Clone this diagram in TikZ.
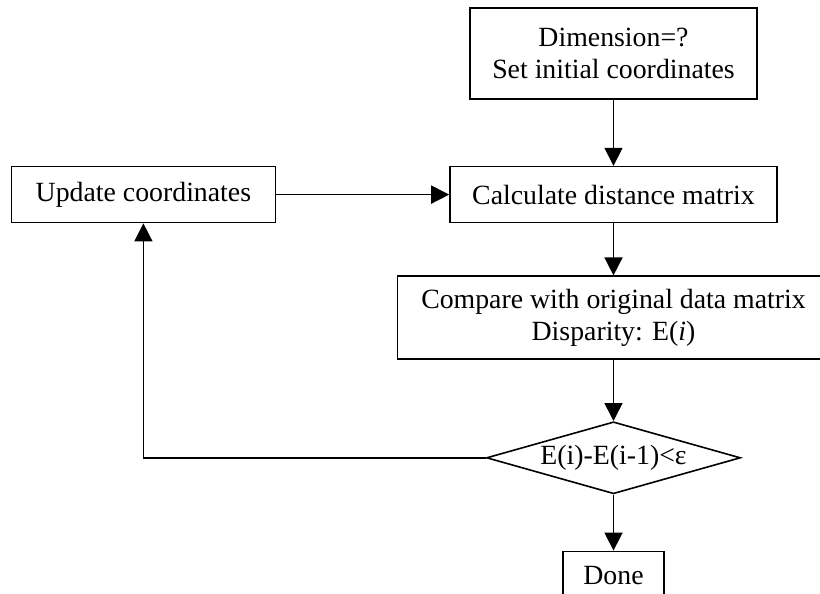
\documentclass[tikz,border=0pt]{standalone}
\usepackage{fontspec}
\setmainfont{Liberation Serif}
\usetikzlibrary{arrows.meta}
\usetikzlibrary{positioning, shapes}

\begin{document}
\begin{tikzpicture}[x=0.5pt,y=-0.5pt,
    font=\fontsize{13.9}{16.3}\selectfont,
    box/.style={draw,line width=0.8pt,inner sep=0pt,align=center},
    decide/.style={draw,diamond,line width=0.8pt,inner sep=0pt,aspect=3.5},
    flow/.style={line width=0.8pt,-{Triangle[length=9pt,width=9pt]}}]
\useasboundingbox (0,0) rectangle (820,594);
\clip (0,0) rectangle (820,594);
\node [box,minimum width=143.5pt,minimum height=45.5pt] (init) at (613.5,53.5)
        {Dimension=?\\Set initial coordinates};
\node [box,minimum width=163.5pt,minimum height=28pt,below=33pt of init] (dist)
        {Calculate distance matrix};
\node [box,minimum width=132pt,minimum height=28pt,left=86.5pt of dist] (upd)
        {Update coordinates};
\node [box,minimum width=216pt,minimum height=41.5pt,below=26pt of dist] (comp)
        {Compare with original data matrix\\Disparity: E(\textit{i})};
\node [decide,minimum width=127pt,minimum height=36pt,below=30.5pt of comp] (chk)
        {\makebox[0pt]{E(i)-E(i-1)<ε}};
\node [box,minimum width=50.5pt,minimum height=24pt,below=28pt of chk] (done)
        {Done};
\draw [flow] (init) -- (dist);
\draw [flow] (dist) -- (comp);
\draw [flow] (comp) -- (chk);
\draw [flow] (chk) -- (done);
\draw [flow] (upd) -- (dist);
\draw [flow] (chk.west) -| (upd.south);
\end{tikzpicture}
\end{document}
